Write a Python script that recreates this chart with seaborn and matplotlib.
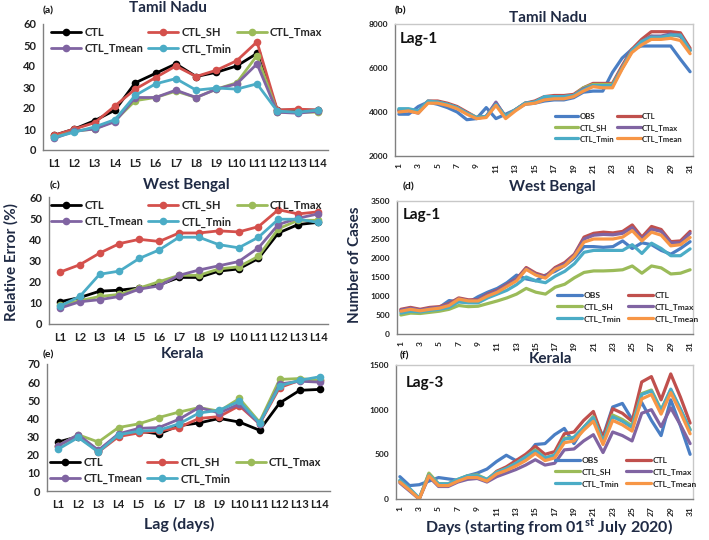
import numpy as np
import pandas as pd
import matplotlib
matplotlib.use("Agg")
import matplotlib.pyplot as plt
import seaborn as sns
from matplotlib.lines import Line2D

# ---------------- data ----------------
lags = ["L1", "L2", "L3", "L4", "L5", "L6", "L7", "L8", "L9", "L10", "L11", "L12", "L13", "L14"]

TN_CTL = [7, 10, 14, 19, 32, 36.5, 41, 35, 37, 40, 46, 19, 19, 19]
TN_SH = [7, 10, 13, 21, 29, 34.5, 40, 35, 38, 42.5, 51.5, 19, 19.5, 19]
TN_TMAX = [6, 9, 10, 14, 23.5, 25, 28, 25, 29, 32, 45, 18, 18, 18]
TN_TMEAN = [5.5, 9, 10, 13.5, 25, 25, 28.5, 25, 29, 31.5, 41, 18, 17.5, 18.5]
TN_TMIN = [6, 8.5, 11, 14.5, 26, 31.5, 34, 28.5, 29.5, 29, 31.5, 18.5, 18, 19]

WB_CTL = [10.5, 12.5, 15.5, 16, 17, 18.5, 22, 22, 25, 26, 31, 43, 47, 48]
WB_SH = [24.5, 28, 33.5, 38, 40, 39, 43, 43, 44, 43.5, 46, 54, 52, 53]
WB_TMAX = [9, 11, 13, 14, 17, 20, 23, 23, 26, 27, 32, 45, 49, 49]
WB_TMEAN = [7.5, 10.5, 11.5, 13, 16.5, 18, 23, 25.5, 27.5, 29.5, 36, 47, 50, 52]
WB_TMIN = [8.5, 13, 23.5, 25, 31, 35, 41, 41, 37.5, 36, 41, 49.5, 49.5, 48]

KE_CTL = [27, 30, 22, 31, 33, 31.5, 36, 37.5, 40, 38, 33.5, 48.5, 55.5, 56]
KE_SH = [25, 30.5, 21.5, 30, 32, 33, 35, 40, 41, 47, 37, 57, 61, 61]
KE_TMAX = [25, 31, 27, 35, 37, 40.5, 43.5, 46, 44, 51, 38, 61.5, 62, 61]
KE_TMEAN = [25, 31, 22.5, 31.5, 34.5, 35, 39.5, 46, 43, 48, 37, 59, 60.5, 60]
KE_TMIN = [23, 29.5, 21.5, 31, 33, 33.5, 37, 43, 44.5, 49.5, 37.5, 58, 61, 63]

days = list(range(1, 32))

B_OBS = [3900, 3900, 4250, 4450, 4350, 4200, 4000, 3650, 3700, 4200, 3700, 3900, 4100, 4350, 4400, 4500, 4550, 4550, 4650, 4900, 4950, 4950, 5800, 6450, 6850, 7000, 7000, 7000, 7000, 6400, 5830]
B_CTL = [4100, 4100, 4000, 4500, 4500, 4400, 4250, 4000, 3750, 3800, 4400, 3800, 4100, 4400, 4500, 4700, 4750, 4750, 4800, 5100, 5300, 5300, 5300, 6100, 6850, 7300, 7650, 7650, 7650, 7600, 6900]
B_SH = [4100, 4100, 4000, 4450, 4450, 4350, 4200, 3950, 3750, 3800, 4350, 3800, 4100, 4400, 4450, 4650, 4700, 4700, 4750, 5100, 5250, 5250, 5250, 6000, 6750, 7200, 7450, 7350, 7500, 7450, 6800]
B_TMAX = [4050, 4050, 3950, 4450, 4450, 4350, 4200, 3950, 3700, 3800, 4450, 3750, 4100, 4400, 4450, 4650, 4700, 4700, 4750, 5050, 5200, 5200, 5200, 6000, 6750, 7200, 7450, 7450, 7550, 7450, 6800]
B_TMIN = [4150, 4150, 4050, 4500, 4450, 4350, 4200, 3950, 3750, 3800, 4350, 3800, 4100, 4400, 4450, 4700, 4700, 4700, 4750, 5000, 5200, 5200, 5200, 6000, 6800, 7200, 7400, 7400, 7500, 7500, 6800]
B_TMEAN = [4000, 4050, 3950, 4400, 4400, 4300, 4150, 3900, 3700, 3750, 4300, 3700, 4050, 4350, 4400, 4550, 4600, 4600, 4700, 4950, 5150, 5100, 5100, 5950, 6700, 7050, 7300, 7300, 7350, 7250, 6650]

D_OBS = [600, 650, 600, 650, 700, 880, 850, 830, 980, 1100, 1200, 1350, 1550, 1450, 1400, 1550, 1650, 1800, 2000, 2300, 2300, 2280, 2300, 2450, 2250, 2400, 2350, 2200, 2100, 2250, 2430]
D_CTL = [650, 700, 650, 700, 720, 800, 950, 900, 900, 1050, 1150, 1300, 1450, 1750, 1600, 1520, 1750, 1880, 2100, 2550, 2650, 2680, 2660, 2700, 2870, 2550, 2830, 2750, 2430, 2450, 2700]
D_SH = [500, 550, 540, 570, 600, 650, 750, 720, 730, 800, 870, 950, 1050, 1200, 1100, 1050, 1230, 1310, 1480, 1620, 1660, 1660, 1670, 1690, 1790, 1600, 1790, 1740, 1580, 1600, 1690]
D_TMAX = [630, 680, 630, 680, 700, 780, 930, 880, 890, 1030, 1130, 1280, 1430, 1720, 1570, 1500, 1720, 1840, 2080, 2500, 2600, 2620, 2610, 2650, 2800, 2500, 2760, 2700, 2400, 2400, 2650]
D_TMIN = [550, 600, 580, 620, 650, 700, 850, 820, 820, 950, 1050, 1150, 1300, 1500, 1400, 1350, 1520, 1650, 1850, 2150, 2200, 2200, 2200, 2200, 2350, 2120, 2390, 2250, 2060, 2060, 2240]
D_TMEAN = [600, 650, 610, 650, 680, 750, 920, 870, 870, 1000, 1100, 1250, 1400, 1700, 1550, 1470, 1700, 1800, 2050, 2420, 2500, 2500, 2500, 2550, 2720, 2450, 2680, 2600, 2320, 2350, 2540]

F_OBS = [250, 150, 160, 200, 240, 225, 210, 260, 290, 335, 420, 490, 430, 470, 610, 620, 720, 790, 620, 800, 920, 700, 1030, 1070, 890, 1080, 880, 710, 1110, 820, 500]
F_CTL = [200, 110, 0, 280, 150, 160, 210, 250, 250, 210, 310, 360, 430, 500, 590, 500, 530, 730, 750, 880, 980, 680, 1010, 960, 870, 1310, 1370, 1110, 1400, 1140, 850]
F_SH = [200, 110, 0, 290, 170, 170, 220, 260, 270, 220, 300, 340, 400, 470, 550, 460, 490, 680, 690, 800, 920, 640, 940, 890, 820, 1180, 1220, 1000, 1220, 1000, 780]
F_TMAX = [180, 90, 0, 250, 140, 140, 190, 220, 230, 190, 250, 290, 330, 380, 440, 380, 400, 550, 560, 650, 720, 520, 750, 710, 650, 960, 1000, 810, 1020, 830, 620]
F_TMIN = [210, 120, 10, 270, 170, 170, 220, 260, 260, 220, 300, 340, 400, 470, 540, 460, 490, 670, 690, 800, 910, 640, 920, 870, 800, 1170, 1210, 990, 1230, 1010, 770]
F_TMEAN = [190, 100, 0, 260, 150, 150, 200, 240, 240, 200, 280, 320, 370, 430, 510, 430, 460, 630, 650, 770, 870, 610, 880, 830, 760, 1120, 1170, 950, 1190, 970, 730]

# ---------------- style ----------------
sns.set_style("white")
plt.rcParams['font.family'] = ['Lato', 'DejaVu Sans']
plt.rcParams['font.weight'] = 'bold'
plt.rcParams['mathtext.fontset'] = 'custom'
plt.rcParams['mathtext.rm'] = 'Lato'
plt.rcParams['mathtext.bf'] = 'Lato:bold'

LEFT_NAMES = ['CTL', 'CTL_SH', 'CTL_Tmax', 'CTL_Tmean', 'CTL_Tmin']
LC = {'CTL': '#000000', 'CTL_SH': '#D4504C', 'CTL_Tmax': '#9BBB59',
      'CTL_Tmean': '#8064A2', 'CTL_Tmin': '#4BACC6'}
RIGHT_NAMES = ['OBS', 'CTL', 'CTL_SH', 'CTL_Tmax', 'CTL_Tmin', 'CTL_Tmean']
RC = {'OBS': '#4A7EC4', 'CTL': '#C0504D', 'CTL_SH': '#9BBB59',
      'CTL_Tmax': '#8064A2', 'CTL_Tmin': '#4BACC6', 'CTL_Tmean': '#F79646'}

W, H = 709, 540
fig = plt.figure(figsize=(W / 100, H / 100), dpi=100)


def rect(l, t, r, b):
    return [l / W, 1 - b / H, (r - l) / W, (b - t) / H]


def fx(x):
    return x / W


def fy(y):
    return 1 - y / H


def left_panel(box, vals, ymax, leg_ul):
    ax = fig.add_axes(rect(*box))
    x = np.arange(1, 15)
    df = pd.DataFrame({'lag': np.tile(x, 5),
                       'val': np.concatenate([vals[n] for n in LEFT_NAMES]),
                       'series': np.repeat(LEFT_NAMES, 14)})
    sns.lineplot(data=df, x='lag', y='val', hue='series', hue_order=LEFT_NAMES,
                 palette=LC, marker='o', markersize=5.5, markeredgewidth=0,
                 linewidth=2.0, legend=False, ax=ax)
    ax.set_xlim(0.45, 14.5)
    ax.set_ylim(0, ymax)
    ax.set_yticks(np.arange(0, ymax + 1, 10))
    ax.set_xticks(x)
    ax.set_xticklabels(lags)
    ax.set_xticks(np.arange(0.5, 14.6, 1), minor=True)
    ax.tick_params(axis='x', which='major', length=0, labelsize=8, pad=6, colors='#202020')
    ax.tick_params(axis='x', which='minor', length=3, direction='out', color='#808080')
    ax.tick_params(axis='y', length=3, direction='out', color='#808080', labelsize=8, pad=2,
                   labelcolor='#202020')
    for s in ['top', 'right']:
        ax.spines[s].set_visible(False)
    for s in ['left', 'bottom']:
        ax.spines[s].set_color('#808080')
        ax.spines[s].set_linewidth(1)
    ax.set_xlabel('')
    ax.set_ylabel('')
    order = ['CTL', 'CTL_Tmean', 'CTL_SH', 'CTL_Tmin', 'CTL_Tmax']
    handles = [Line2D([0], [0], color=LC[n], lw=2.0, marker='o', ms=5.5, mew=0) for n in order]
    ax.legend(handles, order, ncol=3, frameon=False, loc='upper left',
              bbox_to_anchor=(fx(leg_ul[0]), fy(leg_ul[1])), bbox_transform=fig.transFigure,
              fontsize=8, handlelength=2.7, handletextpad=0.3, columnspacing=0.45,
              labelspacing=0.45, borderpad=0.2, borderaxespad=0)
    return ax


def right_panel(box, vals, ylim, yticks, leg_ul, leg_fs, leg_cs):
    ax = fig.add_axes(rect(*box))
    d = np.array(days)
    df = pd.DataFrame({'day': np.tile(d, 6),
                       'val': np.concatenate([vals[n] for n in RIGHT_NAMES]),
                       'series': np.repeat(RIGHT_NAMES, 31)})
    sns.lineplot(data=df, x='day', y='val', hue='series', hue_order=RIGHT_NAMES,
                 palette=RC, linewidth=2.3, legend=False, ax=ax)
    ax.set_xlim(0.6, 31.3)
    ax.set_ylim(*ylim)
    ax.set_yticks(yticks)
    ax.set_yticklabels([str(v) for v in yticks])
    ax.set_xticks(d)
    ax.set_xticklabels([str(v) if v % 2 == 1 else '' for v in d], rotation=90)
    ax.tick_params(axis='x', length=3, direction='out', color='#808080', labelsize=6, pad=2,
                   labelcolor='#202020')
    ax.tick_params(axis='y', length=3, direction='out', color='#808080', labelsize=6, pad=2,
                   labelcolor='#202020')
    for s in ['left', 'bottom']:
        ax.spines[s].set_color('#808080')
        ax.spines[s].set_linewidth(1)
    for s in ['top', 'right']:
        ax.spines[s].set_color('#C8C8C8')
        ax.spines[s].set_linewidth(1)
    ax.set_xlabel('')
    ax.set_ylabel('')
    order = ['OBS', 'CTL_SH', 'CTL_Tmin', 'CTL', 'CTL_Tmax', 'CTL_Tmean']
    handles = [Line2D([0], [0], color=RC[n], lw=2.3) for n in order]
    ax.legend(handles, order, ncol=2, frameon=False, loc='upper left',
              bbox_to_anchor=(fx(leg_ul[0]), fy(leg_ul[1])), bbox_transform=fig.transFigure,
              fontsize=leg_fs, handlelength=3.0, handletextpad=0.2, columnspacing=leg_cs,
              labelspacing=0.55, borderpad=0.2, borderaxespad=0)
    return ax


# left column
left_panel((43, 24, 328, 150),
           {'CTL': TN_CTL, 'CTL_SH': TN_SH, 'CTL_Tmax': TN_TMAX, 'CTL_Tmean': TN_TMEAN, 'CTL_Tmin': TN_TMIN},
           60, (49, 25))
left_panel((49, 197, 328, 324),
           {'CTL': WB_CTL, 'CTL_SH': WB_SH, 'CTL_Tmax': WB_TMAX, 'CTL_Tmean': WB_TMEAN, 'CTL_Tmin': WB_TMIN},
           60, (49, 198))
left_panel((47, 364, 330, 491),
           {'CTL': KE_CTL, 'CTL_SH': KE_SH, 'CTL_Tmax': KE_TMAX, 'CTL_Tmean': KE_TMEAN, 'CTL_Tmin': KE_TMIN},
           70, (48, 455))

# right column
right_panel((395, 24, 693, 156),
            {'OBS': B_OBS, 'CTL': B_CTL, 'CTL_SH': B_SH, 'CTL_Tmax': B_TMAX, 'CTL_Tmin': B_TMIN, 'CTL_Tmean': B_TMEAN},
            (2000, 8000), [2000, 4000, 6000, 8000], (553, 111), 5.6, 0.4)
right_panel((397, 201, 693, 334),
            {'OBS': D_OBS, 'CTL': D_CTL, 'CTL_SH': D_SH, 'CTL_Tmax': D_TMAX, 'CTL_Tmin': D_TMIN, 'CTL_Tmean': D_TMEAN},
            (0, 3500), list(range(0, 3501, 500)), (555, 290), 6.0, 0.8)
right_panel((396, 365, 693, 499),
            {'OBS': F_OBS, 'CTL': F_CTL, 'CTL_SH': F_SH, 'CTL_Tmax': F_TMAX, 'CTL_Tmin': F_TMIN, 'CTL_Tmean': F_TMEAN},
            (0, 1500), [0, 500, 1000, 1500], (553, 455), 6.0, 0.8)

# titles
TITLE_COLOR = '#1F2A44'
titles = [("Tamil Nadu", 168, 8), ("West Bengal", 186, 185), ("Kerala", 183, 354),
          ("Tamil Nadu", 548, 18), ("West Bengal", 552, 187), ("Kerala", 550, 359)]
for t, x, y in titles:
    fig.text(fx(x), fy(y), t, ha='center', va='center', fontsize=11, fontweight='bold', color=TITLE_COLOR)

labels = [("(a)", 43, 11), ("(b)", 395, 11), ("(c)", 50, 186), ("(d)", 403, 187),
          ("(e)", 43, 355), ("(f)", 400, 356)]
for t, x, y in labels:
    fig.text(fx(x), fy(y), t, ha='left', va='center', fontsize=7.5, fontweight='bold', color='#111111')

lagtexts = [("Lag-1", 400, 39), ("Lag-1", 403, 215), ("Lag-3", 406, 383)]
for t, x, y in lagtexts:
    fig.text(fx(x), fy(y), t, ha='left', va='center', fontsize=11, fontweight='bold', color='#111111')

fig.text(fx(11), fy(262), "Relative Error (%)", rotation=90, ha='center', va='center',
         fontsize=11, fontweight='bold', color=TITLE_COLOR)
fig.text(fx(355), fy(265), "Number of Cases", rotation=90, ha='center', va='center',
         fontsize=11, fontweight='bold', color=TITLE_COLOR)
fig.text(fx(179), fy(524), "Lag (days)", ha='center', va='center',
         fontsize=11.5, fontweight='bold', color=TITLE_COLOR)
fig.text(fx(549), fy(527), r"Days (starting from 01$^{\mathbf{st}}$ July 2020)", ha='center', va='center',
         fontsize=11.5, fontweight='bold', color=TITLE_COLOR)

fig.savefig("out.png", dpi=100)
